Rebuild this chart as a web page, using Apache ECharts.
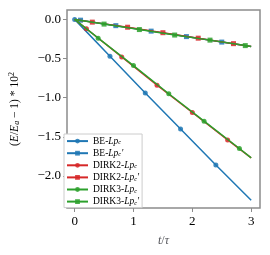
<!DOCTYPE html>
<html><head><meta charset="utf-8">
<script src="https://cdn.jsdelivr.net/npm/echarts@6/dist/echarts.min.js"></script>
<style>html,body{margin:0;padding:0;background:#fff}#c{width:270px;height:255px}</style>
</head><body><div id="c"></div>
<script>
// ---- data ----
const xTicks = [0, 1, 2, 3];
const yTicks = [0, -0.5, -1, -1.5, -2];
const seriesNames = ['BE-Lpc', "BE-Lpc'", 'DIRK2-Lpc', "DIRK2-Lpc'", 'DIRK3-Lpc', "DIRK3-Lpc'"];
// line start/end [t, y]
const lineStart = [[0, 0], [0, 0], [0, 0], [0, 0], [0, 0], [0, 0]];
const lineEnd = [[3, -2.31], [3, -0.345], [3, -1.77], [3, -0.345], [3, -1.77], [3, -0.345]];
// marker times and values
const beT = [0, 0.6, 1.2, 1.8, 2.4];
const beY = [0, -0.47, -0.94, -1.40, -1.86];
const bePT = [0.1, 0.7, 1.3, 1.9, 2.5];
const bePY = [-0.01, -0.08, -0.15, -0.22, -0.29];
const d2T = [0.2, 0.8, 1.4, 2.0, 2.6];
const d2Y = [-0.12, -0.48, -0.84, -1.19, -1.54];
const d2PT = [0.3, 0.9, 1.5, 2.1, 2.7];
const d2PY = [-0.035, -0.10, -0.17, -0.24, -0.31];
const d3T = [0.4, 1.0, 1.6, 2.2, 2.8];
const d3Y = [-0.24, -0.59, -0.95, -1.30, -1.65];
const d3PT = [0.5, 1.1, 1.7, 2.3, 2.9];
const d3PY = [-0.06, -0.13, -0.20, -0.265, -0.335];

const markT = [beT, bePT, d2T, d2PT, d3T, d3PT];
const markY = [beY, bePY, d2Y, d2PY, d3Y, d3PY];
const colors = ['#1f77b4', '#1f77b4', '#d62728', '#d62728', '#2ca02c', '#2ca02c'];
const symbols = ['circle', 'rect', 'circle', 'rect', 'circle', 'rect'];

const serif = 'Liberation Serif, DejaVu Serif, serif';

function legendFmt(name) {
  const m = name.match(/^(.*)-Lpc('?)$/);
  return '{r|' + m[1] + '-}{i|Lp}{s|c}' + (m[2] ? "{i|'}" : '');
}

const series = seriesNames.map((n, k) => {
  const pts = markT[k].map((t, j) => ({ value: [t, markY[k][j]] }));
  const data = [];
  if (markT[k][0] !== lineStart[k][0]) data.push({ value: lineStart[k], symbol: 'none' });
  data.push(...pts);
  data.push({ value: lineEnd[k], symbol: 'none' });
  return {
    name: n, type: 'line', data: data,
    symbol: symbols[k], symbolSize: 5, showAllSymbol: true,
    lineStyle: { color: colors[k], width: 1.5 },
    itemStyle: { color: colors[k], opacity: 0.85 },
    color: colors[k], animation: false, z: 2 + k
  };
});

const chart = echarts.init(document.getElementById('c'), null, { renderer: 'canvas' });
chart.setOption({
  animation: false,
  backgroundColor: '#fff',
  grid: { left: 62, right: 10, top: 10, bottom: 47, show: true, borderColor: '#8c8c8c', borderWidth: 1.5, backgroundColor: 'transparent' },
  legend: {
    orient: 'vertical', left: 64, top: 134,
    itemWidth: 21, itemHeight: 6, itemGap: 2,
    padding: [2, 3, 1, 2],
    borderColor: '#cccccc', borderWidth: 1, borderRadius: 0, backgroundColor: '#fff',
    data: seriesNames,
    formatter: legendFmt,
    textStyle: {
      fontFamily: serif, fontSize: 9.5, color: '#000', lineHeight: 9.8,
      rich: {
        r: { fontFamily: serif, fontSize: 9.5, color: '#000', lineHeight: 9.8 },
        i: { fontFamily: serif, fontSize: 9.5, fontStyle: 'italic', color: '#000', lineHeight: 9.8 },
        s: { fontFamily: serif, fontSize: 6.5, fontStyle: 'italic', color: '#000', lineHeight: 9.8, verticalAlign: 'bottom', padding: [3, 0, 0, 0] }
      }
    }
  },
  xAxis: {
    type: 'value', min: -0.13, max: 3.15,
    splitLine: { show: false },
    axisLine: { show: false, onZero: false },
    axisTick: { show: true, length: 4, lineStyle: { color: '#8c8c8c' }, customValues: xTicks },
    axisLabel: { customValues: xTicks, fontFamily: serif, fontSize: 13, color: '#000', margin: 7 },
    name: '{i|t}/{i|τ}', nameLocation: 'middle', nameGap: 27,
    nameTextStyle: { fontFamily: serif, fontSize: 12, rich: { i: { fontFamily: serif, fontStyle: 'italic', fontSize: 12 } } }
  },
  yAxis: {
    type: 'value', min: -2.41, max: 0.12,
    splitLine: { show: false },
    axisLine: { show: false, onZero: false },
    axisTick: { show: true, length: 4, lineStyle: { color: '#8c8c8c' }, customValues: yTicks },
    axisLabel: { customValues: yTicks, fontFamily: serif, fontSize: 13, color: '#000', margin: 6,
      formatter: v => v.toFixed(1).replace('-', '−') },
    name: '({i|E}/{i|E}{sub|a} − 1) * 10{sup|2}', nameLocation: 'middle', nameGap: 46, nameRotate: 90,
    nameTextStyle: { fontFamily: serif, fontSize: 11.5, color: '#000',
      rich: {
        i: { fontFamily: serif, fontStyle: 'italic', fontSize: 11.5 },
        sub: { fontFamily: serif, fontStyle: 'italic', fontSize: 8, verticalAlign: 'bottom', padding: [5, 0, 0, 0] },
        sup: { fontFamily: serif, fontSize: 8, verticalAlign: 'top', padding: [0, 0, 5, 0] }
      } }
  },
  series: series
});
</script></body></html>
